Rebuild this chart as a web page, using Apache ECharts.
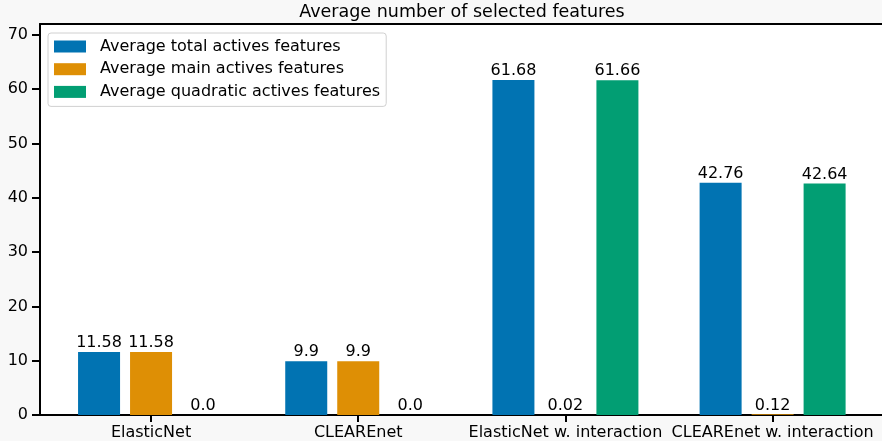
<!DOCTYPE html>
<html>
<head>
<meta charset="utf-8">
<script src="https://cdn.jsdelivr.net/npm/echarts@6/dist/echarts.min.js"></script>
<style>
  html, body { margin: 0; padding: 0; background: #f8f8f8; }
  #chart { width: 882px; height: 441px; }
</style>
</head>
<body>
<div id="chart"></div>
<script>
// Models compared on the x axis
const categories = ['ElasticNet', 'CLEAREnet', 'ElasticNet w. interaction', 'CLEAREnet w. interaction'];
const categoryPositions = [0, 1, 2, 3];

// Average number of selected features per model
const seriesNames = ['Average total actives features', 'Average main actives features', 'Average quadratic actives features'];
const totalActives = [11.58, 9.9, 61.68, 42.76];
const mainActives = [11.58, 9.9, 0.02, 0.12];
const quadraticActives = [0.0, 0.0, 61.66, 42.64];

// Y axis tick values
const yTicks = [0, 10, 20, 30, 40, 50, 60, 70];

const colors = ['#0173b2', '#de8f05', '#029e73'];
const FONT = 'DejaVu Sans';

function fmt(v) {
  return Number.isInteger(v) ? v.toFixed(1) : String(v);
}

function makeSeries(name, values, color) {
  return {
    name: name,
    type: 'bar',
    barWidth: 42,
    barGap: '23.8%',
    itemStyle: { color: color, borderWidth: 0 },
    label: {
      show: true,
      position: 'top',
      distance: 1,
      color: '#000',
      fontFamily: FONT,
      fontSize: 16,
      formatter: p => fmt(p.value[1])
    },
    data: values.map((v, i) => [categoryPositions[i], v])
  };
}

const chart = echarts.init(document.getElementById('chart'), null, { renderer: 'canvas' });

chart.setOption({
  backgroundColor: '#f8f8f8',
  animation: false,
  title: {
    text: 'Average number of selected features',
    left: 462,
    textAlign: 'center',
    top: 3,
    padding: 0,
    textStyle: { fontFamily: FONT, fontSize: 17.5, fontWeight: 'normal', color: '#000' }
  },
  legend: {
    orient: 'vertical',
    left: 48,
    top: 33,
    padding: [5, 6, 6, 6],
    backgroundColor: '#ffffff',
    borderColor: '#d0d0d0',
    borderWidth: 1,
    borderRadius: 3,
    itemWidth: 32,
    itemHeight: 12,
    itemGap: 5.7,
    icon: 'rect',
    textStyle: { fontFamily: FONT, fontSize: 16, color: '#000', lineHeight: 17, padding: [0, 0, 0, 9] },
    data: seriesNames
  },
  grid: {
    left: 40,
    right: 0,
    top: 24,
    bottom: 25,
    show: true,
    backgroundColor: '#ffffff',
    borderWidth: 0
  },
  xAxis: [{
    type: 'value',
    position: 'bottom',
    min: -0.536,
    max: 3.528,
    axisLine: { show: true, onZero: false, lineStyle: { color: '#000', width: 2 } },
    axisTick: { show: true, inside: false, length: 7, customValues: categoryPositions, lineStyle: { color: '#000', width: 2 } },
    axisLabel: {
      show: true,
      customValues: categoryPositions,
      formatter: v => categories[Math.round(v)],
      fontFamily: FONT,
      fontSize: 16,
      color: '#000',
      margin: 10
    },
    splitLine: { show: false }
  }, {
    type: 'value',
    position: 'top',
    min: -0.536,
    max: 3.528,
    axisLine: { show: true, onZero: false, lineStyle: { color: '#000', width: 2 } },
    axisTick: { show: false },
    axisLabel: { show: false },
    splitLine: { show: false }
  }],
  yAxis: {
    type: 'value',
    position: 'left',
    min: 0,
    max: 72,
    axisLine: { show: true, onZero: false, lineStyle: { color: '#000', width: 2 } },
    axisTick: { show: true, length: 8, customValues: yTicks, lineStyle: { color: '#000', width: 2 } },
    axisLabel: {
      customValues: yTicks,
      fontFamily: FONT,
      fontSize: 16,
      color: '#000',
      margin: 12
    },
    splitLine: { show: false }
  },
  series: [
    makeSeries(seriesNames[0], totalActives, colors[0]),
    makeSeries(seriesNames[1], mainActives, colors[1]),
    makeSeries(seriesNames[2], quadraticActives, colors[2])
  ]
});
</script>
</body>
</html>
